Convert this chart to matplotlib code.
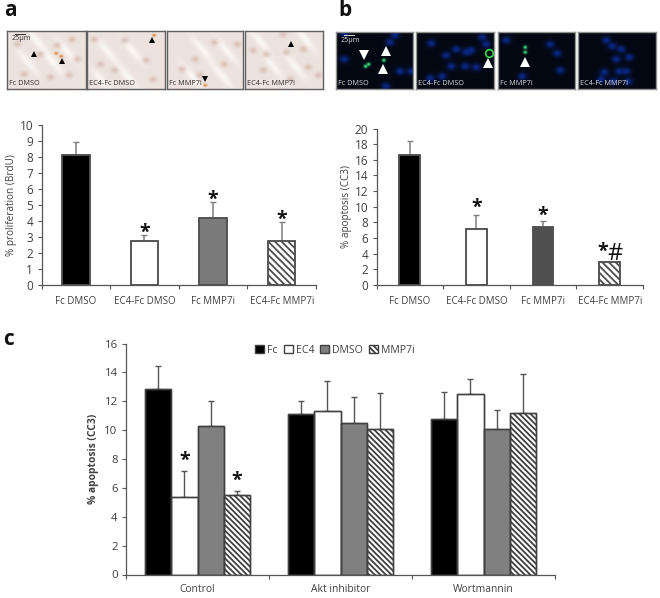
import numpy as np
import matplotlib
matplotlib.use('Agg')
import matplotlib.pyplot as plt

W, H = 660, 598

# panel a and b bar values (value, top of error bar)
labels_ab = ['Fc DMSO', 'EC4-Fc DMSO', 'Fc MMP7i', 'EC4-Fc MMP7i']
prolif = [8.1, 2.7, 4.2, 2.75]
prolif_top = [8.95, 3.1, 5.15, 3.9]
apop = [16.6, 7.1, 7.4, 2.9]
apop_top = [18.4, 9.0, 8.2, 3.0]

# panel c
groups = ['Control', 'Akt inhibitor', 'Wortmannin']
series_c = ['Fc', 'EC4', 'DMSO', 'MMP7i']
fc = [12.85, 11.15, 10.8]
ec4 = [5.4, 11.35, 12.5]
dmso = [10.3, 10.5, 10.06]
mmp7i = [5.5, 10.1, 11.2]
fc_top = [14.45, 12.0, 12.67]
ec4_top = [7.2, 13.4, 13.57]
dmso_top = [12.0, 12.28, 11.37]
mmp7i_top = [5.75, 12.58, 13.87]

# micrograph blobs, in panel pixels
cells_a = [
    [(33, 23), (62, 44), (50, 14), (65, 8), (70, 28), (10, 13), (17, 43), (43, 46)],
    [(7, 8), (37, 9), (58, 29), (65, 48), (27, 39), (13, 33)],
    [(47, 11), (28, 28), (15, 38), (57, 33), (33, 44), (70, 13)],
    [(8, 19), (18, 39), (41, 21), (58, 18), (63, 36), (21, 23), (38, 3), (45, 48), (73, 44)],
]
streaks_a = [
    [(20, 30), (45, 30), (60, 20), (30, 10)],
    [(20, 20), (45, 20), (40, 45), (15, 50)],
    [(35, 18), (60, 20), (25, 45), (55, 45)],
    [(28, 35), (50, 35), (15, 10), (60, 8)],
]
spots_a = [[(54, 25), (49, 22)], [(66, 4)], [(38, 54)], []]
nuclei_b = [
    [(8, 27), (49, 54), (63, 39), (53, 10), (74, 39), (58, 3), (8, 1)],
    [(15, 11), (30, 23), (40, 17), (50, 20), (55, 18), (35, 34), (49, 34), (60, 35),
     (66, 5), (70, 12), (14, 46), (26, 44)],
    [(62, 38), (52, 12), (59, 21), (24, 44), (8, 8)],
    [(28, 8), (34, 14), (43, 17), (38, 27), (51, 25), (48, 39), (26, 40), (23, 47),
     (41, 39), (35, 49), (50, 49)],
]
green_b = [[(29, 34), (47, 28), (32, 32)], [], [(27, 20), (27, 15)], []]
rings_b = [[], [(73, 21)], [], []]
arrows_a = [[(27, 23, '^'), (55, 30, '^')], [(65, 9, '^')], [(38, 48, 'v')], [(46, 13, '^')]]
arrows_b = [[(28, 23, 'v'), (50, 19, '^'), (47, 37, '^')], [(72, 31, '^')], [(27, 30, '^')], []]

plt.rcParams['font.family'] = ['Open Sans', 'DejaVu Sans']
plt.rcParams['hatch.linewidth'] = 1.3
TXT = '#404040'

fig = plt.figure(figsize=(W / 100, H / 100), dpi=100)


def px_axes(x0, y0, x1, y1):
    return fig.add_axes([x0 / W, 1 - y1 / H, (x1 - x0) / W, (y1 - y0) / H])


def blobs(img, pts, color, sx, sy, strength, angle=0):
    yy, xx = np.mgrid[0:img.shape[0], 0:img.shape[1]]
    c, s = np.cos(np.radians(angle)), np.sin(np.radians(angle))
    for x, y in pts:
        u = (xx - x) * c + (yy - y) * s
        v = -(xx - x) * s + (yy - y) * c
        a = strength * np.exp(-(u ** 2 / (2 * sx ** 2) + v ** 2 / (2 * sy ** 2)))
        for k in range(3):
            img[:, :, k] = img[:, :, k] * (1 - a) + color[k] * a


def micrograph(box, base, layers, edge, label, lab_col, arrows, arrow_col, scale=False, rings=()):
    ax = px_axes(*box)
    w, h = box[2] - box[0], box[3] - box[1]
    img = np.ones((h * 2, w * 2, 3)) * np.array(base)
    for pts, color, sx, sy, strength, angle in layers:
        blobs(img, [(2 * x, 2 * y) for x, y in pts], color, 2 * sx, 2 * sy, strength, angle)
    ax.imshow(img, extent=(0, w, h, 0), aspect='auto', interpolation='bilinear')
    for x, y in rings:
        ax.plot(x, y, 'o', mfc='none', mec='#35d050', ms=5.5, mew=1.3)
    for x, y, m in arrows:
        ax.plot(x, y, m, color=arrow_col, ms=5 if arrow_col == 'black' else 7, mew=0)
    ax.text(2, h - 2, label, fontsize=5.2, color=lab_col, va='bottom')
    if scale:
        ax.plot([8, 18], [3, 3], color=lab_col, lw=0.7)
        ax.text(5, 4.5, '25µm', fontsize=5.2, color=lab_col, va='top')
    ax.set_xlim(0, w)
    ax.set_ylim(h, 0)
    ax.set_xticks([])
    ax.set_yticks([])
    for s in ax.spines.values():
        s.set_color(edge)
        s.set_linewidth(1)


boxes_a = [(7, 31, 86, 89), (87, 31, 165, 89), (167, 31, 243, 89), (245, 31, 323, 89)]
boxes_b = [(336, 32, 413, 89), (416, 32, 494, 89), (498, 32, 575, 89), (578, 32, 656, 89)]
for i in range(4):
    micrograph(boxes_a[i], (0.93, 0.89, 0.87),
               [(streaks_a[i], (0.99, 0.98, 0.97), 11, 2.5, 0.9, 50),
                (cells_a[i], (0.82, 0.70, 0.65), 2.6, 2.2, 0.7, 0),
                (spots_a[i], (0.85, 0.50, 0.20), 1.3, 1.0, 1.0, 0)],
               '#606060', labels_ab[i], '#303030', arrows_a[i], 'black', scale=i == 0)
    micrograph(boxes_b[i], (0.01, 0.03, 0.07),
               [(nuclei_b[i], (0.05, 0.17, 0.60), 3.0, 2.5, 0.9, 0),
                (green_b[i], (0.25, 0.95, 0.55), 1.3, 1.2, 1.0, 0)],
               '#909090', labels_ab[i], '#d8d8d8', arrows_b[i], 'white', scale=i == 0,
               rings=rings_b[i])


def style_axis(ax, ymax, step, ylabel, weight='normal', fs=8.5, lab_fs=7.2, xfs=7, xpad=8, lpad=2):
    ax.set_ylim(0, ymax)
    ax.set_yticks(np.arange(0, ymax + 0.01, step))
    for s in ['top', 'right']:
        ax.spines[s].set_visible(False)
    for s in ['left', 'bottom']:
        ax.spines[s].set_color('#555555')
        ax.spines[s].set_linewidth(0.9)
    ax.tick_params(axis='y', labelsize=fs, colors=TXT, length=3, width=0.8, pad=3, color='#555555')
    ax.tick_params(axis='x', which='major', length=3, width=0.8, color='#555555')
    ax.tick_params(axis='x', which='minor', length=0, labelsize=xfs, labelcolor=TXT, pad=xpad)
    ax.set_ylabel(ylabel, fontsize=lab_fs, color=TXT, fontweight=weight, labelpad=lpad)


def small_chart(box, vals, tops, fills, width, ymax, step, ylabel, marks):
    ax = px_axes(*box)
    x = np.arange(4) + 0.5
    for i in range(4):
        hatch = '\\\\\\\\\\' if fills[i] == 'hatch' else None
        face = 'white' if fills[i] == 'hatch' else fills[i]
        ax.bar(x[i], vals[i], width, color=face, edgecolor='#505050', linewidth=1.1,
               hatch=hatch, zorder=2)
        ax.bar(x[i], vals[i], width, color='none', edgecolor='#505050', linewidth=1.1, zorder=3)
        ax.errorbar(x[i], vals[i], yerr=[[0], [tops[i] - vals[i]]], color='#7f7f7f',
                    elinewidth=1.1, capsize=2, capthick=1, zorder=1)
    ax.set_xlim(0, 4)
    ax.set_xticks(np.arange(5))
    ax.set_xticklabels([])
    ax.set_xticks(x, labels_ab, minor=True)
    style_axis(ax, ymax, step, ylabel)
    for xm, ym, s in marks:
        if s == '*':
            ax.text(xm, ym, s, fontsize=14, fontweight='bold', ha='center', va='center', color='#111111')
        else:
            ax.text(xm, ym, s, fontsize=17, ha='center', va='center', color='#111111')
    return ax


small_chart((41.5, 125, 316, 284.5), prolif, prolif_top,
            ['black', 'white', '#7a7a7a', 'hatch'], 0.40, 10, 1, '% proliferation (BrdU)',
            [(1.5, 3.25, '*'), (2.5, 5.3, '*'), (3.5, 4.05, '*')])
small_chart((376.5, 128.5, 643, 285), apop, apop_top,
            ['black', 'white', '#505050', 'hatch'], 0.31, 20, 2, '% apoptosis (CC3)',
            [(1.5, 9.8, '*'), (2.5, 8.8, '*'), (3.4, 4.2, '*'), (3.58, 4.0, '#')])

# panel c
ax = px_axes(126, 343.5, 555, 574.5)
x = np.arange(3) + 0.5
w = 0.1825
vals = [fc, ec4, dmso, mmp7i]
tops = [fc_top, ec4_top, dmso_top, mmp7i_top]
faces = ['black', 'white', '#808080', 'white']
hatches = [None, None, None, '\\\\\\\\\\\\']
for j in range(4):
    pos = x + (j - 1.5) * w
    ax.bar(pos, vals[j], w, color=faces[j], edgecolor='#404040', linewidth=1,
           hatch=hatches[j], label=series_c[j], zorder=2)
    ax.bar(pos, vals[j], w, color='none', edgecolor='#404040', linewidth=1, zorder=3)
    ax.errorbar(pos, vals[j], yerr=[np.zeros(3), np.array(tops[j]) - np.array(vals[j])],
                fmt='none', ecolor='#555555', elinewidth=1, capsize=2, capthick=1, zorder=1)
ax.set_xlim(0, 3)
ax.set_xticks(np.arange(4))
ax.set_xticklabels([])
ax.set_xticks(x, groups, minor=True)
style_axis(ax, 16, 2, '% apoptosis (CC3)', fs=8.2, lab_fs=7.4, xfs=7.4, xpad=7, lpad=4)
ax.yaxis.label.set_fontweight('bold')
ax.text(x[0] - 0.5 * w, 7.85, '*', fontsize=14, fontweight='bold', ha='center', va='center', color='#111111')
ax.text(x[0] + 1.5 * w, 6.5, '*', fontsize=14, fontweight='bold', ha='center', va='center', color='#111111')
ax.legend(loc='upper center', bbox_to_anchor=(0.487, 1.035), ncol=4, frameon=False, fontsize=7.6,
          handlelength=0.85, handleheight=0.85, handletextpad=0.25, columnspacing=0.6,
          labelcolor=TXT)

# panel letters
fig.text(4 / W, 1 - 16 / H, 'a', fontsize=15, fontweight='bold', va='baseline', color='#111111')
fig.text(338 / W, 1 - 16 / H, 'b', fontsize=15, fontweight='bold', va='baseline', color='#111111')
fig.text(3 / W, 1 - 345 / H, 'c', fontsize=15, fontweight='bold', va='baseline', color='#111111')

fig.savefig('out.png', dpi=100)
